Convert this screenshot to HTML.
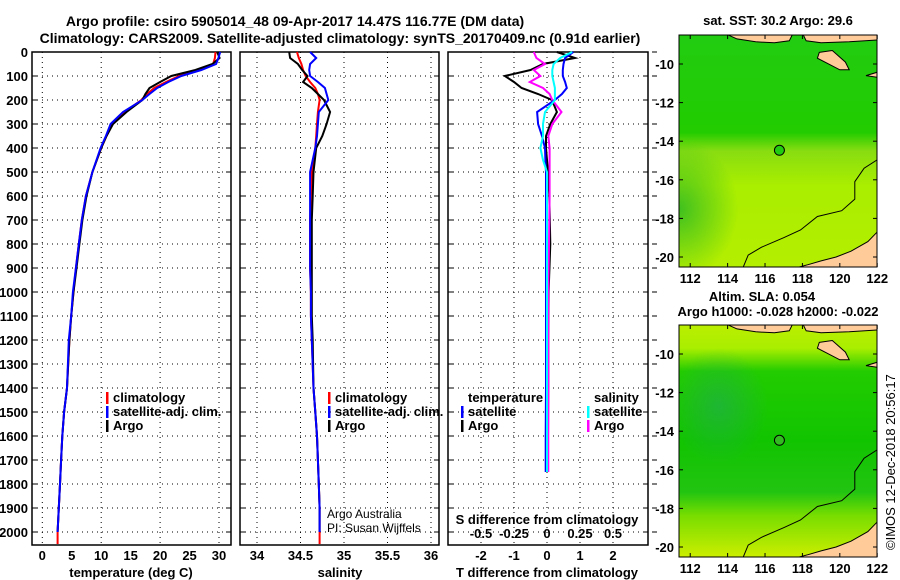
<!DOCTYPE html>
<html><head><meta charset="utf-8"><style>
body{margin:0;background:#fff;}
svg{display:block;font-family:"Liberation Sans",sans-serif;}
.b{font-weight:bold;font-size:13px;}
.t{font-weight:bold;font-size:14px;}
</style></head><body>
<svg id="c" width="900" height="580" viewBox="0 0 900 580">
<defs>
<linearGradient id="g1" x1="0" y1="0" x2="0" y2="1">
<stop offset="0" stop-color="#22cc11"/><stop offset="0.42" stop-color="#22cc00"/><stop offset="0.5" stop-color="#88dd11"/><stop offset="0.65" stop-color="#aaee00"/><stop offset="1" stop-color="#b4ee00"/></linearGradient>
<radialGradient id="g1b" cx="0" cy="0.75" r="0.3"><stop offset="0" stop-color="#33bb22" stop-opacity="0.9"/><stop offset="1" stop-color="#33bb22" stop-opacity="0"/></radialGradient>
<linearGradient id="g2" x1="0" y1="0" x2="0" y2="1">
<stop offset="0" stop-color="#bbee00"/><stop offset="0.1" stop-color="#aaee00"/><stop offset="0.2" stop-color="#22cc00"/><stop offset="0.5" stop-color="#11c400"/><stop offset="0.72" stop-color="#22c411"/><stop offset="0.82" stop-color="#77dd00"/><stop offset="1" stop-color="#ccee00"/></linearGradient>
<radialGradient id="g2b" cx="0.2" cy="0.35" r="0.25"><stop offset="0" stop-color="#22aa55" stop-opacity="0.6"/><stop offset="1" stop-color="#22aa55" stop-opacity="0"/></radialGradient>
<clipPath id="cm1"><rect x="679" y="35" width="198" height="232"/></clipPath>
<clipPath id="cm2"><rect x="679" y="325" width="198" height="232"/></clipPath>
</defs>
<text class="t" x="295" y="26" text-anchor="middle">Argo profile: csiro 5905014_48 09-Apr-2017 14.47S 116.77E (DM data)</text>
<text class="t" x="340" y="43" text-anchor="middle">Climatology: CARS2009. Satellite-adjusted climatology: synTS_20170409.nc (0.91d earlier)</text>
<g id="panels"></g>
<g id="maps"></g>
<text x="895" y="550" font-size="13" transform="rotate(-90 895 550)">©IMOS 12-Dec-2018 20:56:17</text>
</svg>
<script>
const depth   = [0,25,50,75,100,125,150,175,200,250,300,350,400,500,600,700,800,900,1000,1100,1200,1400,1500,1600,1700,1800,1900,2000];
const tClim   = [29.4,29.3,29.0,26.5,23.2,21.0,19.0,17.8,16.8,14.0,11.9,10.9,10.0,8.5,7.4,6.7,6.2,5.7,5.3,4.9,4.6,4.2,3.7,3.4,3.2,3.0,2.8,2.6];
const tSat    = [30.2,29.9,29.5,27.0,23.6,21.4,19.5,18.2,17.0,13.7,11.6,10.8,9.9,8.5,7.4,6.7,6.2,5.7,5.2,4.9,4.5,4.2,3.7,3.4,3.2,3.0,2.8,2.6];
const tArgo   = [29.7,30.1,28.9,26.0,21.9,20.0,18.2,17.5,17.0,14.3,12.0,10.9,10.0,8.5,7.5,6.8,6.3,5.8,5.3,4.9,4.6,4.2,3.7,3.4,3.2,3.0,2.8,2.6];
const sClim   = [34.46,34.48,34.51,34.53,34.56,34.61,34.67,34.70,34.72,34.70,34.69,34.68,34.67,34.63,34.62,34.61,34.61,34.61,34.62,34.62,34.63,34.65,34.67,34.69,34.70,34.71,34.72,34.72];
const sSat    = [34.61,34.68,34.61,34.60,34.61,34.70,34.78,34.80,34.82,34.71,34.70,34.69,34.67,34.61,34.61,34.61,34.61,34.61,34.62,34.62,34.63,34.65,34.67,34.69,34.70,34.71,34.72,34.72];
const sArgo   = [34.37,34.38,34.47,34.52,34.58,34.53,34.63,34.70,34.77,34.84,34.80,34.75,34.68,34.65,34.64,34.63,34.63,34.63,34.63,34.63,34.64,34.65,34.67,34.69,34.70,34.71,34.72,34.72];
const dDepth  = [0,25,50,75,100,125,150,175,200,250,300,350,400,450,500,600,800,1000,1200,1400,1600,1750];
const dTSat   = [0.8,0.55,0.5,0.48,0.48,0.55,0.6,0.45,0.24,-0.3,-0.27,-0.15,-0.06,-0.05,-0.03,-0.03,-0.03,-0.03,-0.03,-0.03,-0.04,-0.04];
const dTArgo  = [0.3,0.85,-0.12,-0.5,-1.28,-1.0,-0.77,-0.27,0.15,0.3,0.1,-0.03,-0.03,0.0,0.03,0.07,0.1,0.05,0.04,0.04,0.03,0.03];
const dSSat   = [0.19,0.1,0.05,0.04,0.04,0.05,0.06,0.06,0.06,-0.015,-0.03,-0.03,-0.05,-0.03,0.0,0.0,0.0,0.0,0.0,0.0,0.0,0.0];
const dSArgo  = [-0.1,-0.08,-0.015,-0.1,-0.05,-0.13,-0.03,0.02,0.04,0.11,0.04,0.01,0.02,0.02,0.02,0.02,0.015,0.01,0.01,0.01,0.01,0.01];
const depthTicks = [0,100,200,300,400,500,600,700,800,900,1000,1100,1200,1300,1400,1500,1600,1700,1800,1900,2000];
const tTicks  = [0,5,10,15,20,25,30];
const sTicks  = ["34","34.5","35","35.5","36"];
const dtTicks = [-2,-1,0,1,2];
const dsTicks = ["-0.5","-0.25","0","0.25","0.5"];
const lonTicks = [112,114,116,118,120,122];
const latTicks = [-10,-12,-14,-16,-18,-20];
const argoPos = [116.77,-14.47];

const NS='http://www.w3.org/2000/svg';
function mk(tag,attrs,parent){const e=document.createElementNS(NS,tag);for(const k in attrs)e.setAttribute(k,attrs[k]);parent.appendChild(e);return e;}
const P=document.getElementById('panels');
const yD=d=>52+d*0.24;
const xT=v=>42.3+v*5.89;
const xS=v=>257+(v-34)*87;
const xDT=v=>547+v*33;
const xDS=v=>547+v*132;
const boxes=[[32,231],[240,439],[448,648]];
boxes.forEach((b,i)=>{
  const g=mk('g',{},P);
  
  
  depthTicks.forEach(d=>{ if(d>0){mk('line',{x1:b[0],x2:b[1],y1:yD(d),y2:yD(d),stroke:'#000','stroke-dasharray':'1 4','stroke-width':1},g);}
    mk('line',{x1:b[0],x2:b[0]+5,y1:yD(d),y2:yD(d),stroke:'#000'},g);
    mk('line',{x1:b[1]-5,x2:b[1],y1:yD(d),y2:yD(d),stroke:'#000'},g);});
});
function vgrid(xs){xs.forEach(x=>{mk('line',{x1:x,x2:x,y1:52,y2:545,stroke:'#000','stroke-dasharray':'1 4'},P);});}
vgrid(tTicks.filter(v=>v%10==0).map(xT));
vgrid(sTicks.map(s=>xS(+s)));
vgrid(dtTicks.map(xDT));
boxes.forEach(b=>mk('rect',{x:b[0],y:52,width:b[1]-b[0],height:493,fill:'none',stroke:'#000','stroke-width':1.5},P));
depthTicks.forEach(d=>mk('line',{x1:652,x2:657,y1:yD(d),y2:yD(d),stroke:'#000'},P));
depthTicks.forEach(d=>{const t=mk('text',{x:28,y:yD(d)+5,'text-anchor':'end','class':'b'},P);t.textContent=d;
  
  });
function xlab(vals,fx,y,parent){vals.forEach(v=>{const t=mk('text',{x:fx(+v),y:y,'text-anchor':'middle','class':'b'},parent);t.textContent=v;
  
  });}
xlab(tTicks,xT,560,P);xlab(sTicks,xS,560,P);xlab(dtTicks,xDT,560,P);xlab(dsTicks,xDS,538,P);
[['temperature (deg C)',131],['salinity',340],['T difference from climatology',547]].forEach(a=>{const t=mk('text',{x:a[1],y:577,'text-anchor':'middle','class':'b'},P);t.textContent=a[0];
  
  });
{const t=mk('text',{x:547,y:524,'text-anchor':'middle','class':'b'},P);t.textContent='S difference from climatology';
  
  }
function line(ds,vs,fx,col,name,w){const pts=ds.map((d,i)=>fx(vs[i]).toFixed(1)+','+yD(d).toFixed(1)).join(' ');
  const p=mk('polyline',{points:pts,fill:'none',stroke:col,'stroke-width':w||2},P);
  
  }
const dClim=depth.concat([2050]);
line(dClim,tClim.concat([tClim[tClim.length-1]]),xT,'#f00','temp-climatology-line');
line(depth,tArgo,xT,'#000','temp-argo-line');
line(depth,tSat,xT,'#00f','temp-satellite-line');
line(dClim,sClim.concat([sClim[sClim.length-1]]),xS,'#f00','salinity-climatology-line');
line(depth,sArgo,xS,'#000','salinity-argo-line');
line(depth,sSat,xS,'#00f','salinity-satellite-line');
line(dDepth,dTArgo,xDT,'#000','tdiff-argo-line');
line(dDepth,dSArgo,xDS,'#f0f','sdiff-argo-line');
line(dDepth,dTSat,xDT,'#00f','tdiff-satellite-line');
line(dDepth,dSSat,xDS,'#0ff','sdiff-satellite-line');
function leg(x,y,col,txt){if(col)mk('rect',{x:x-7,y:y-10,width:2.5,height:12,fill:col},P);const t=mk('text',{x:x,y:y,'class':'b'},P);t.textContent=txt;
  
  }
leg(113,402,'#f00','climatology');leg(113,416,'#00f','satellite-adj. clim.');leg(113,430,'#000','Argo');
leg(335,402,'#f00','climatology');leg(335,416,'#00f','satellite-adj. clim.');leg(335,430,'#000','Argo');
leg(468,402,null,'temperature');leg(468,416,'#00f','satellite');leg(468,430,'#000','Argo');
leg(594,402,null,'salinity');leg(594,416,'#0ff','satellite');leg(594,430,'#f0f','Argo');
[['Argo Australia',518],['PI: Susan Wijffels',532]].forEach(a=>{const t=mk('text',{x:327,y:a[1],'font-size':12},P);t.textContent=a[0];
  
  });

const M=document.getElementById('maps');
function drawMap(top,grad,blob,title,cid,sub){
  const g=mk('g',{},M);
  
  
  const lx=lon=>679+(lon-111.4)*18.7, ly=lat=>top+29+(-10-lat)*19.3;
  const c=mk('g',{'clip-path':'url(#'+cid+')'},g);
  mk('rect',{x:679,y:top,width:198,height:232,fill:'url(#'+grad+')'},c);
  mk('rect',{x:679,y:top,width:198,height:232,fill:'url(#'+blob+')'},c);
  const land='#ffcc99';
  const poly=(pts,f)=>mk('polygon',{points:pts.map(p=>lx(p[0]).toFixed(1)+','+ly(p[1]).toFixed(1)).join(' '),fill:f,stroke:'#000','stroke-width':1},c);
  poly([[113.8,-8.4],[117.5,-8.4],[117.3,-8.8],[116.5,-8.9],[115.5,-8.85],[114.5,-8.7]],land);
  poly([[118.0,-8.4],[122.1,-8.4],[122.1,-8.75],[120.5,-8.85],[119,-8.9],[118.2,-8.8]],land);
  poly([[118.9,-9.4],[119.6,-9.3],[120.3,-9.9],[120.5,-10.3],[120,-10.3],[119.2,-9.9],[118.8,-9.7]],land);
  poly([[121.4,-10.6],[122.1,-10.4],[122.1,-10.7]],land);
  poly([[122.1,-18.6],[121.5,-19.2],[120.6,-19.7],[119.8,-20.0],[119,-20.2],[118.3,-20.4],[117.5,-20.6],[122.1,-20.6]],land);
  mk('polyline',{points:[[122.1,-14.9],[121.3,-15.4],[120.8,-16.1],[120.8,-17.0],[120.1,-17.6],[118.8,-17.9],[117.9,-18.6],[117,-19],[115.8,-19.5],[115.1,-19.9],[114.8,-20.6]].map(p=>lx(p[0]).toFixed(1)+','+ly(p[1]).toFixed(1)).join(' '),fill:'none',stroke:'#000','stroke-width':1},c);
  const ac=mk('circle',{cx:lx(argoPos[0]),cy:ly(argoPos[1]),r:5,fill:sub?'#33bb22':'#22cc11',stroke:'#000','stroke-width':1},g);
  
  
  mk('rect',{x:679,y:top,width:198,height:232,fill:'none',stroke:'#000','stroke-width':1},g);
  lonTicks.forEach(v=>{mk('line',{x1:lx(v),x2:lx(v),y1:top,y2:top+4,stroke:'#000'},g);mk('line',{x1:lx(v),x2:lx(v),y1:top+228,y2:top+232,stroke:'#000'},g);
    const t=mk('text',{x:lx(v),y:top+248,'text-anchor':'middle','class':'b'},g);t.textContent=v;
    
    });
  latTicks.forEach(v=>{mk('line',{x1:679,x2:683,y1:ly(v),y2:ly(v),stroke:'#000'},g);mk('line',{x1:873,x2:877,y1:ly(v),y2:ly(v),stroke:'#000'},g);
    const t=mk('text',{x:674,y:ly(v)+5,'text-anchor':'end','class':'b'},g);t.textContent=v;
    
    });
  title.forEach(s=>{const t=mk('text',{x:s[1],y:s[2],'text-anchor':'middle','class':'b'},g);t.textContent=s[0];
    
    });
}
drawMap(35,'g1','g1b',[['sat. SST: 30.2 Argo: 29.6',778,25]],'cm1',false);
drawMap(325,'g2','g2b',[['Altim. SLA: 0.054',762,301],['Argo h1000: -0.028 h2000: -0.022',778,316]],'cm2',true);
</script>
</body></html>
